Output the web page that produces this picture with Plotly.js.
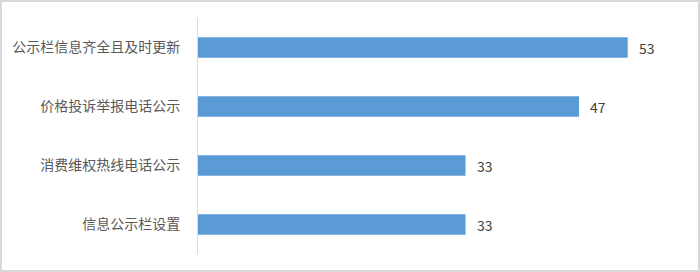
<!DOCTYPE html>
<html>
<head>
<meta charset="utf-8">
<script src="https://cdn.plot.ly/plotly-3.0.1.min.js"></script>
<style>
  html, body { margin: 0; padding: 0; background: #fff; }
  #wrap { position: relative; width: 700px; height: 272px; }
  #chart { position: absolute; left: 0; top: 0; width: 700px; height: 272px; }
  #frame { position: absolute; left: 0; top: 0; width: 700px; height: 272px; box-sizing: border-box; border: 2px solid #d9d9d9; pointer-events: none; }
</style>
</head>
<body>
<div id="wrap"><div id="chart"></div><div id="frame"></div></div>
<script>
const categories = ["公示栏信息齐全且及时更新", "价格投诉举报电话公示", "消费维权热线电话公示", "信息公示栏设置"];
const values = [53, 47, 33, 33];

const labelFont = { family: "Noto Sans CJK SC, sans-serif", size: 14, color: "#404040" };

const trace = {
  type: "bar",
  orientation: "h",
  x: values,
  y: categories,
  width: 0.35,
  marker: { color: "#5B9BD5", line: { width: 0 } },
  hoverinfo: "none"
};

const annotations = values.map((v, i) => ({
  x: v, y: categories[i], xref: "x", yref: "y",
  text: String(v), showarrow: false,
  xanchor: "left", yanchor: "middle", xshift: 9,
  font: labelFont
}));

const layout = {
  width: 700, height: 272,
  margin: { l: 198, r: 18, t: 18, b: 18 },
  paper_bgcolor: "#ffffff",
  plot_bgcolor: "#ffffff",
  showlegend: false,
  xaxis: { range: [0, 59.7], showgrid: false, zeroline: false, showticklabels: false, showline: false, fixedrange: true },
  yaxis: {
    autorange: "reversed", showgrid: false, zeroline: false,
    showline: true, linecolor: "#d9d9d9", linewidth: 1,
    ticks: "", ticklabelstandoff: 14,
    tickfont: { family: "Noto Sans CJK SC, sans-serif", size: 14, color: "#595959" },
    fixedrange: true
  },
  annotations: annotations
};

Plotly.newPlot("chart", [trace], layout, { displayModeBar: false, staticPlot: true });
</script>
</body>
</html>
